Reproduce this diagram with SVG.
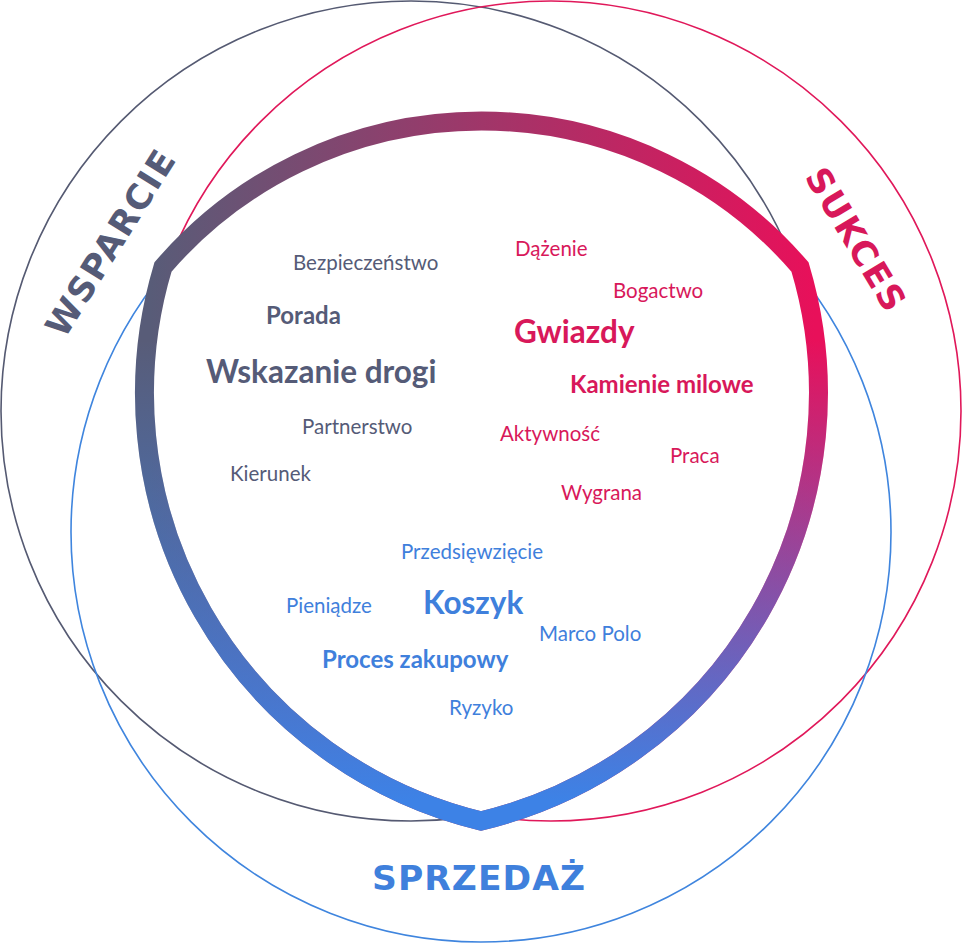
<svg xmlns="http://www.w3.org/2000/svg" width="962" height="943" viewBox="0 0 962 943">
  <defs>
    <linearGradient id="gH" gradientUnits="userSpaceOnUse" x1="150" y1="0" x2="815" y2="0">
      <stop offset="0" stop-color="#585c78"/>
      <stop offset="1" stop-color="#e8105a"/>
    </linearGradient>
    <linearGradient id="gV" gradientUnits="userSpaceOnUse" x1="0" y1="340" x2="0" y2="800">
      <stop offset="0" stop-color="#3d82e6" stop-opacity="0"/>
      <stop offset="1" stop-color="#3d82e6" stop-opacity="1"/>
    </linearGradient>
    <path id="shape" d="M 163 267 A 420.4 420.4 0 0 1 800 267 A 440 440 0 0 1 481 821 A 440 440 0 0 1 163 267 Z"/>
  </defs>
  <style>
    .ring { fill: none; stroke-width: 1.6; }
    .t { font-family: Lato, "Liberation Sans", sans-serif; }
    .r { font-weight: 400; font-size: 20.5px; }
    .b { font-weight: 700; }
    .g { fill: #555b77; }
    .p { fill: #d8185a; }
    .bl { fill: #3f80dc; }
    .title { font-family: "DejaVu Sans", "Liberation Sans", sans-serif; font-weight: 700; font-size: 34.5px; }
  </style>
  <rect width="962" height="943" fill="#ffffff"/>
  <g id="circles">
    <circle id="circle-wsparcie" class="ring" cx="411" cy="411" r="410" stroke="#555a72"/>
    <circle id="circle-sukces" class="ring" cx="551" cy="411" r="410" stroke="#e0185a"/>
    <circle id="circle-sprzedaz" class="ring" cx="481" cy="532" r="410" stroke="#3f85de"/>
  </g>
  <g id="core">
    <use href="#shape" fill="none" stroke="url(#gH)" stroke-width="19" stroke-linejoin="miter" stroke-miterlimit="10"/>
    <use href="#shape" fill="none" stroke="url(#gV)" stroke-width="19" stroke-linejoin="miter" stroke-miterlimit="10"/>
  </g>
  <g id="titles">
    <text id="title-wsparcie" class="title g" transform="translate(110,243) rotate(-58)" x="0" y="12.5" text-anchor="middle" textLength="212" lengthAdjust="spacing">WSPARCIE</text>
    <text id="title-sukces" class="title p" transform="translate(856,239) rotate(59)" x="0" y="12.5" text-anchor="middle" textLength="160" lengthAdjust="spacing">SUKCES</text>
    <text id="title-sprzedaz" class="title bl" x="478.5" y="890" text-anchor="middle" textLength="213" lengthAdjust="spacing">SPRZEDAŻ</text>
  </g>
  <g id="words-wsparcie" class="t g">
    <text class="r" x="293" y="269.5">Bezpieczeństwo</text>
    <text class="b" font-size="24" x="266" y="324">Porada</text>
    <text class="b" font-size="31.5" x="206" y="383">Wskazanie drogi</text>
    <text class="r" x="302" y="433.5">Partnerstwo</text>
    <text class="r" x="230" y="481">Kierunek</text>
  </g>
  <g id="words-sukces" class="t p">
    <text class="r" x="515" y="256">Dążenie</text>
    <text class="r" x="613" y="298">Bogactwo</text>
    <text class="b" font-size="31.5" x="514" y="343">Gwiazdy</text>
    <text class="b" font-size="24" x="570" y="393">Kamienie milowe</text>
    <text class="r" x="500" y="440.5">Aktywność</text>
    <text class="r" x="670" y="462.5">Praca</text>
    <text class="r" x="561" y="500">Wygrana</text>
  </g>
  <g id="words-sprzedaz" class="t bl">
    <text class="r" x="401" y="559">Przedsięwzięcie</text>
    <text class="b" font-size="31.5" x="423" y="614">Koszyk</text>
    <text class="r" x="286" y="613">Pieniądze</text>
    <text class="r" x="539" y="640.5">Marco Polo</text>
    <text class="b" font-size="24" x="322" y="668">Proces zakupowy</text>
    <text class="r" x="449" y="715">Ryzyko</text>
  </g>
</svg>
